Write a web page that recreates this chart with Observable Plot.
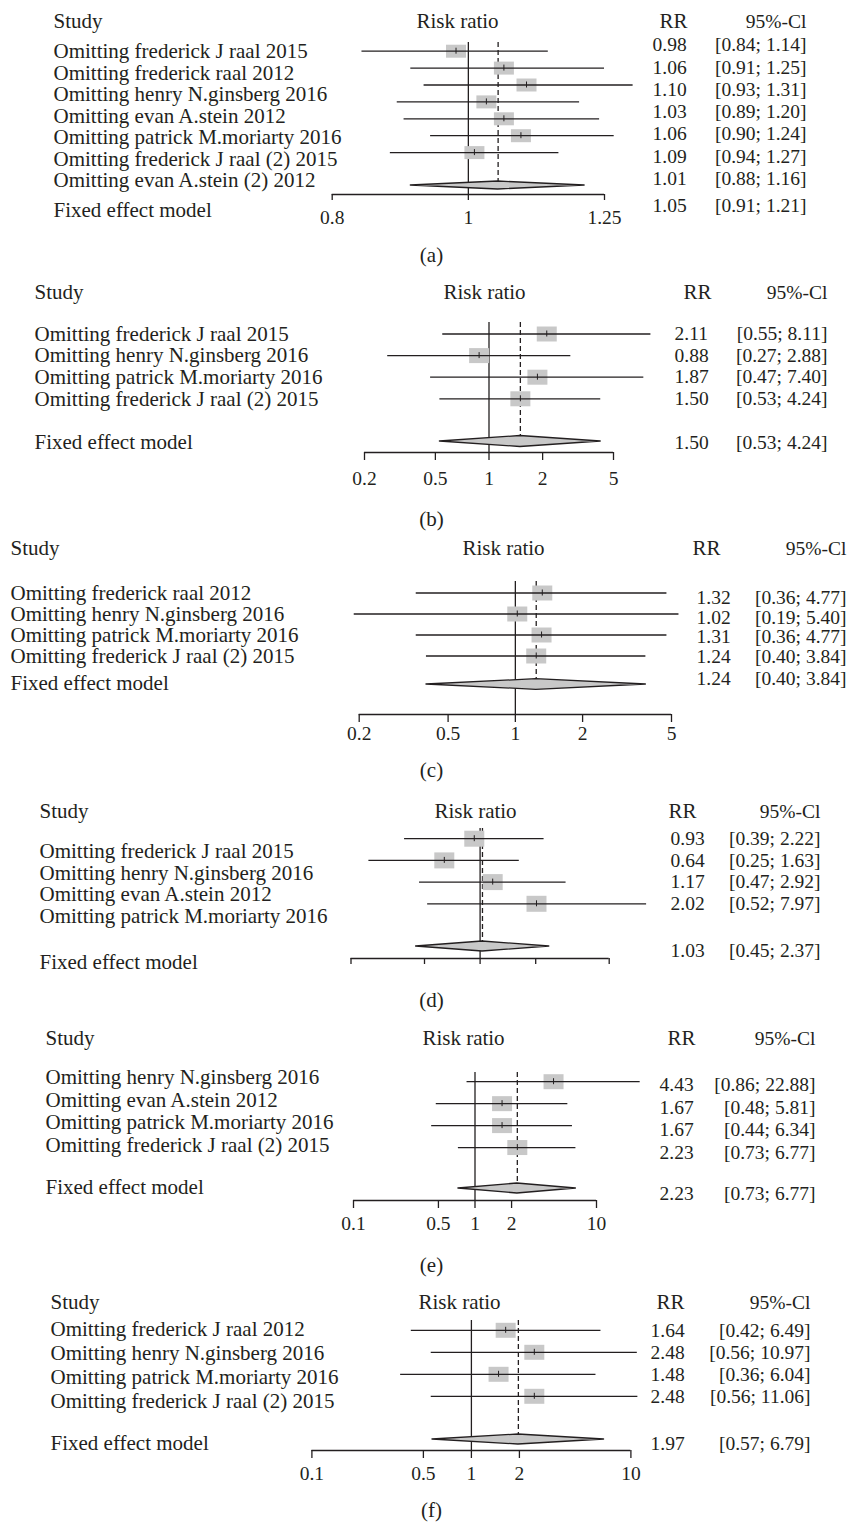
<!DOCTYPE html>
<html>
<head>
<meta charset="utf-8">
<script src="https://cdn.jsdelivr.net/npm/d3@7"></script>
<script src="https://cdn.jsdelivr.net/npm/@observablehq/plot@0.6"></script>
<style>
  html, body { margin: 0; padding: 0; background: #ffffff; }
  #chart { width: 853px; }
  #chart svg { display: block; }
</style>
</head>
<body>
<div id="chart"></div>
<script>
// ---------- DATA ----------
// (a)
const studiesA = ["Omitting frederick J raal 2015", "Omitting frederick raal 2012", "Omitting henry N.ginsberg 2016", "Omitting evan A.stein 2012", "Omitting patrick M.moriarty 2016", "Omitting frederick J raal (2) 2015", "Omitting evan A.stein (2) 2012"];
const rrA = [0.98, 1.06, 1.10, 1.03, 1.06, 1.09, 1.01];
const loA = [0.84, 0.91, 0.93, 0.89, 0.90, 0.94, 0.88];
const hiA = [1.14, 1.25, 1.31, 1.20, 1.24, 1.27, 1.16];
const fixedA = [1.05, 0.91, 1.21];
const ticksA = [0.8, 1, 1.25];
// (b)
const studiesB = ["Omitting frederick J raal 2015", "Omitting henry N.ginsberg 2016", "Omitting patrick M.moriarty 2016", "Omitting frederick J raal (2) 2015"];
const rrB = [2.11, 0.88, 1.87, 1.50];
const loB = [0.55, 0.27, 0.47, 0.53];
const hiB = [8.11, 2.88, 7.40, 4.24];
const fixedB = [1.50, 0.53, 4.24];
const ticksB = [0.2, 0.5, 1, 2, 5];
// (c)
const studiesC = ["Omitting frederick raal 2012", "Omitting henry N.ginsberg 2016", "Omitting patrick M.moriarty 2016", "Omitting frederick J raal (2) 2015"];
const rrC = [1.32, 1.02, 1.31, 1.24];
const loC = [0.36, 0.19, 0.36, 0.40];
const hiC = [4.77, 5.40, 4.77, 3.84];
const fixedC = [1.24, 0.40, 3.84];
const ticksC = [0.2, 0.5, 1, 2, 5];
// (d)
const studiesD = ["Omitting frederick J raal 2015", "Omitting henry N.ginsberg 2016", "Omitting evan A.stein 2012", "Omitting patrick M.moriarty 2016"];
const rrD = [0.93, 0.64, 1.17, 2.02];
const loD = [0.39, 0.25, 0.47, 0.52];
const hiD = [2.22, 1.63, 2.92, 7.97];
const fixedD = [1.03, 0.45, 2.37];
const ticksD = [0.2, 0.5, 1, 2, 5];
// (e)
const studiesE = ["Omitting henry N.ginsberg 2016", "Omitting evan A.stein 2012", "Omitting patrick M.moriarty 2016", "Omitting frederick J raal (2) 2015"];
const rrE = [4.43, 1.67, 1.67, 2.23];
const loE = [0.86, 0.48, 0.44, 0.73];
const hiE = [22.88, 5.81, 6.34, 6.77];
const fixedE = [2.23, 0.73, 6.77];
const ticksE = [0.1, 0.5, 1, 2, 10];
// (f)
const studiesF = ["Omitting frederick J raal 2012", "Omitting henry N.ginsberg 2016", "Omitting patrick M.moriarty 2016", "Omitting frederick J raal (2) 2015"];
const rrF = [1.64, 2.48, 1.48, 2.48];
const loF = [0.42, 0.56, 0.36, 0.56];
const hiF = [6.49, 10.97, 6.04, 11.06];
const fixedF = [1.97, 0.57, 6.79];
const ticksF = [0.1, 0.5, 1, 2, 10];

const captions = ["(a)", "(b)", "(c)", "(d)", "(e)", "(f)"];
const headers = ["Study", "Risk ratio", "RR", "95%-Cl"];
const fixedLabel = "Fixed effect model";

// ---------- LAYOUT (pixels) ----------
const layouts = [
  {top:0,    H:268, head:21,   riskX:457, rrHead:673, ciRight:806, studyX:53, rrX:652, line:[50.7,16.9],  label:[51,21.5],    val:[44.5,22.3],  fixLab:210,  fixVal:205,  dia:185,  dh:4,   axis:194,  tick:6, tickLab:217,  cap:255,  top0:42,   range:[331.7,604],  sq:[20,13], showTickLabels:true},
  {top:268,  H:263, head:292,  riskX:484, rrHead:697, ciRight:827, studyX:34, rrX:674, line:[333.5,21.6], label:[333.5,21.6], val:[333.5,21.6], fixLab:442,  fixVal:442,  dia:441,  dh:5.5, axis:452,  tick:8, tickLab:478,  cap:519,  top0:322,  range:[364,613],    sq:[20,15], showTickLabels:true},
  {top:531,  H:254, head:548,  riskX:503, rrHead:706, ciRight:846, studyX:10, rrX:696, line:[592.5,21],   label:[592.5,21],   val:[597.4,19.5], fixLab:683,  fixVal:678,  dia:684,  dh:5.3, axis:714,  tick:8, tickLab:733,  cap:770,  top0:581,  range:[358.7,671],  sq:[20,15], showTickLabels:true},
  {top:785,  H:235, head:811,  riskX:475, rrHead:682, ciRight:820, studyX:39, rrX:670, line:[838.2,21.7], label:[851,21.5],   val:[838.2,21.7], fixLab:962,  fixVal:950,  dia:946,  dh:5,   axis:958,  tick:6, tickLab:0,    cap:1000, top0:828,  range:[350.5,608.7],sq:[20,16], showTickLabels:false},
  {top:1020, H:260, head:1038, riskX:463, rrHead:681, ciRight:815, studyX:45, rrX:659, line:[1081.2,21.95],label:[1076.9,22.65],val:[1084.5,22.5],fixLab:1187, fixVal:1193, dia:1188, dh:5,   axis:1200, tick:8, tickLab:1223, cap:1265, top0:1072, range:[353,596],    sq:[20,15], showTickLabels:true},
  {top:1280, H:244, head:1302, riskX:459, rrHead:670, ciRight:810, studyX:50, rrX:650, line:[1329.8,22],  label:[1329,23.9],  val:[1329.8,22],  fixLab:1443, fixVal:1443, dia:1439, dh:5,   axis:1450, tick:8, tickLab:1473, cap:1510, top0:1320, range:[311.4,630.4],sq:[20,15], showTickLabels:true}
];

const panelsData = [
  {studies:studiesA, rr:rrA, lo:loA, hi:hiA, fixed:fixedA, ticks:ticksA},
  {studies:studiesB, rr:rrB, lo:loB, hi:hiB, fixed:fixedB, ticks:ticksB},
  {studies:studiesC, rr:rrC, lo:loC, hi:hiC, fixed:fixedC, ticks:ticksC},
  {studies:studiesD, rr:rrD, lo:loD, hi:hiD, fixed:fixedD, ticks:ticksD},
  {studies:studiesE, rr:rrE, lo:loE, hi:hiE, fixed:fixedE, ticks:ticksE},
  {studies:studiesF, rr:rrF, lo:loF, hi:hiF, fixed:fixedF, ticks:ticksF}
];

const INK = "#231f20";
const GRAY = "#c8c8c8";
const FONT = "'Liberation Serif', 'Times New Roman', serif";
const FS = 21;    // words
const FN = 19.5;  // numbers
const SW = 1.3;
const fmt = v => v.toFixed(2);

function panel(data, L, caption) {
  const rows = data.studies.map((s, i) => ({study: s, rr: data.rr[i], lo: data.lo[i], hi: data.hi[i], i}));
  const lineY = d => L.line[0] + L.line[1] * d.i;
  const labelY = d => L.label[0] + L.label[1] * d.i;
  const valY = d => L.val[0] + L.val[1] * d.i;
  const [fe, feLo, feHi] = data.fixed;
  const ticks = data.ticks;
  const rectSymbol = {draw(ctx) { ctx.rect(-L.sq[0] / 2, -L.sq[1] / 2, L.sq[0], L.sq[1]); }};
  const diamond = [
    {x: feLo, y1: L.dia, y2: L.dia},
    {x: fe, y1: L.dia - L.dh, y2: L.dia + L.dh},
    {x: feHi, y1: L.dia, y2: L.dia}
  ];
  const t = {fontSize: FS, fill: INK, frameAnchor: "left", fontFamily: FONT};
  const n = {fontSize: FN, fill: INK, frameAnchor: "left", fontFamily: FONT};

  const marks = [
    // headers
    Plot.text([headers[0]], {...t, text: d => d, y: () => L.head, dx: L.studyX, textAnchor: "start"}),
    Plot.text([headers[1]], {...t, text: d => d, y: () => L.head, dx: L.riskX, textAnchor: "middle"}),
    Plot.text([headers[2]], {...t, text: d => d, y: () => L.head, dx: L.rrHead, textAnchor: "middle"}),
    Plot.text([headers[3]], {...n, text: d => d, y: () => L.head, dx: L.ciRight, textAnchor: "end"}),
    // study labels
    Plot.text(rows, {...t, text: "study", y: labelY, dx: L.studyX, textAnchor: "start"}),
    Plot.text([fixedLabel], {...t, text: d => d, y: () => L.fixLab, dx: L.studyX, textAnchor: "start"}),
    // RR and CI columns
    Plot.text(rows, {...n, text: d => fmt(d.rr), y: valY, dx: L.rrX, textAnchor: "start"}),
    Plot.text(rows, {...n, text: d => `[${fmt(d.lo)}; ${fmt(d.hi)}]`, y: valY, dx: L.ciRight, textAnchor: "end"}),
    Plot.text([data.fixed], {...n, text: d => fmt(d[0]), y: () => L.fixVal, dx: L.rrX, textAnchor: "start"}),
    Plot.text([data.fixed], {...n, text: d => `[${fmt(d[1])}; ${fmt(d[2])}]`, y: () => L.fixVal, dx: L.ciRight, textAnchor: "end"}),
    // reference lines
    Plot.ruleX([1], {x: d => d, y1: () => L.top0, y2: () => L.axis, stroke: INK, strokeWidth: SW}),
    Plot.ruleX([fe], {x: d => d, y1: () => L.top0, y2: () => L.dia - L.dh, stroke: INK, strokeWidth: SW, strokeDasharray: "5,3"}),
    // squares, CI lines, point ticks
    Plot.dot(rows, {x: "rr", y: lineY, symbol: rectSymbol, fill: GRAY, stroke: null}),
    Plot.ruleY(rows, {y: lineY, x1: "lo", x2: "hi", stroke: INK, strokeWidth: SW}),
    Plot.ruleX(rows, {x: "rr", y1: d => lineY(d) - 3, y2: d => lineY(d) + 3, stroke: INK, strokeWidth: 1}),
    // diamond
    Plot.area(diamond, {x1: "x", y1: "y1", y2: "y2", fill: GRAY, stroke: INK, strokeWidth: SW}),
    // axis
    Plot.ruleY([L.axis], {y: d => d, x1: () => ticks[0], x2: () => ticks[ticks.length - 1], stroke: INK, strokeWidth: SW}),
    Plot.ruleX(ticks, {x: d => d, y1: () => L.axis, y2: () => L.axis + L.tick, stroke: INK, strokeWidth: SW}),
    // caption
    Plot.text([caption], {...t, text: d => d, y: () => L.cap, dx: 431, textAnchor: "middle"})
  ];
  if (L.showTickLabels) {
    marks.push(Plot.text(ticks, {fontSize: FN, fill: INK, fontFamily: FONT, x: d => d, y: () => L.tickLab, text: d => String(d), textAnchor: "middle"}));
  }

  return Plot.plot({
    width: 853,
    height: L.H,
    margin: 0,
    style: {fontFamily: FONT, fontSize: FS + "px", background: "#ffffff", color: INK},
    x: {type: "log", domain: [ticks[0], ticks[ticks.length - 1]], range: L.range, axis: null},
    y: {type: "linear", domain: [L.top, L.top + L.H], range: [0, L.H], axis: null},
    marks
  });
}

const chart = document.getElementById("chart");
panelsData.forEach((d, k) => chart.appendChild(panel(d, layouts[k], captions[k])));
</script>
</body>
</html>
